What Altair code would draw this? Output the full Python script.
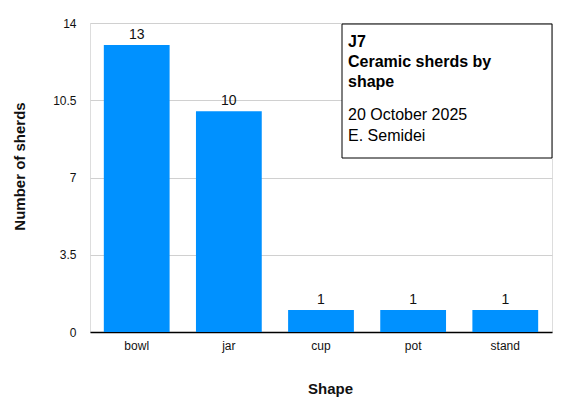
import altair as alt
import pandas as pd

shapes = ["bowl", "jar", "cup", "pot", "stand"]
counts = [13, 10, 1, 1, 1]
y_ticks = [0, 3.5, 7, 10.5, 14]
note_bold = ["J7", "Ceramic sherds by", "shape"]
note_regular = ["20 October 2025", "E. Semidei"]

df = pd.DataFrame({"shape": shapes, "count": counts})
one = pd.DataFrame({"k": [0]})

FONT = "Liberation Sans"
W, H = 462, 309

base = alt.Chart(df).encode(
    x=alt.X("shape:N", sort=shapes,
            scale=alt.Scale(paddingInner=0.286, paddingOuter=0.15),
            axis=alt.Axis(title="Shape", labelAngle=0, labelFontSize=12, labelColor="#111",
                          labelFont=FONT, ticks=False, domainColor="#000", domainWidth=1.5,
                          labelPadding=8, titleFont=FONT, titleFontSize=15, titleFontWeight="bold",
                          titlePadding=30, titleColor="#111", titleX=240)),
    y=alt.Y("count:Q", scale=alt.Scale(domain=[0, 14], nice=False),
            axis=alt.Axis(title="Number of sherds", values=y_ticks, format=".1~f",
                          labelFontSize=12, labelColor="#111", labelFont=FONT, ticks=False,
                          domain=False, labelPadding=14, gridColor="#d0d0d0", titleFont=FONT,
                          titleFontSize=15, titleFontWeight="bold", titlePadding=25,
                          titleColor="#111", titleY=143)),
)

bars = base.mark_bar(color="#0091FF")
labels = base.mark_text(baseline="bottom", dy=-3, fontSize=14, font=FONT, color="#111").encode(
    text="count:Q")

box = alt.Chart(one).mark_rect(fill="white", stroke="#000", strokeWidth=1).encode(
    x=alt.value(252), x2=alt.value(462), y=alt.value(1), y2=alt.value(135))

title_bold = alt.Chart(one).mark_text(
    align="left", baseline="alphabetic", fontSize=16, fontWeight="bold", font=FONT,
    color="#000", lineHeight=20).encode(
    x=alt.value(258), y=alt.value(24), text=alt.value(note_bold))

title_reg = alt.Chart(one).mark_text(
    align="left", baseline="alphabetic", fontSize=16, font=FONT,
    color="#000", lineHeight=21).encode(
    x=alt.value(258), y=alt.value(97), text=alt.value(note_regular))

chart = alt.layer(bars, labels, box, title_bold, title_reg).properties(
    width=W, height=H,
    autosize=alt.AutoSizeParams(type="none"),
    padding={"left": 82, "top": 15, "right": 10, "bottom": 70},
).configure_view(stroke=None).configure(background="white")

chart.save("out.html", embed_options={"renderer": "svg", "actions": False})
